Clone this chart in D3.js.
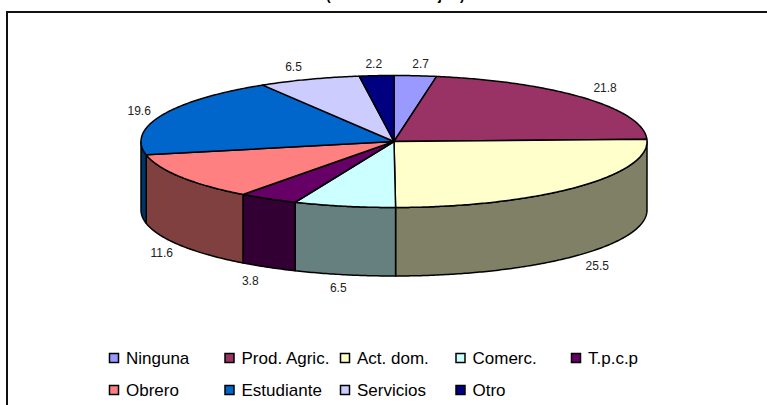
<!DOCTYPE html>
<html>
<head>
<meta charset="utf-8">
<script src="https://cdn.jsdelivr.net/npm/d3@7"></script>
<style>
  html, body { margin: 0; padding: 0; background: #fff; }
  svg { display: block; }
  text { font-family: "Liberation Sans", Arial, sans-serif; }
</style>
</head>
<body>
<div id="chart"></div>
<script>
var categories = ["Ninguna", "Prod. Agric.", "Act. dom.", "Comerc.", "T.p.c.p", "Obrero", "Estudiante", "Servicios", "Otro"];
var values = [2.7, 21.8, 25.5, 6.5, 3.8, 11.6, 19.6, 6.5, 2.2];
var colors = ["#9999ff", "#993366", "#ffffcc", "#ccffff", "#660066", "#ff8080", "#0066cc", "#ccccff", "#000080"];
// only the bottom of the title survives the crop, so only these glyphs are drawn
var titleGlyphs = ["(", "j", ")"];

var w = 767;
var h = 405;
var cx = 394, cy = 141.5, rx = 253, ry = 66, depth = 68.5;

var svg = d3.select("#chart").append("svg")
  .attr("width", w)
  .attr("height", h);

// chart area border, open on the right and bottom where the picture is cut
svg.append("path")
  .attr("d", "M7," + h + "V12H" + w)
  .attr("fill", "none")
  .attr("stroke", "#111")
  .attr("stroke-width", 2);

// title
var titleX = [326, 438, 460];
svg.selectAll(".title")
  .data(titleGlyphs)
  .enter()
  .append("text")
  .attr("class", "title")
  .attr("x", function(d, i) { return titleX[i]; })
  .attr("y", 0)
  .style("font-size", "14px")
  .style("font-weight", "bold")
  .text(function(d) { return d; });

// unit circle to pixels, the squashed ellipse of the pie
var xScale = d3.scaleLinear().domain([-1, 1]).range([cx - rx, cx + rx]);
var yScale = d3.scaleLinear().domain([-1, 1]).range([cy - ry, cy + ry]);

var pie = d3.pie().sort(null).value(function(d) { return d; });
var slices = pie(values);

var line = d3.line()
  .x(function(d) { return xScale(Math.sin(d)); })
  .y(function(d) { return yScale(-Math.cos(d)); });

function rimAngles(a0, a1) {
  var n = Math.max(2, Math.ceil((a1 - a0) / 0.01));
  return d3.range(n + 1).map(function(i) { return a0 + (a1 - a0) * i / n; });
}

// side wall colour is the slice colour at half strength
function sideColor(c) {
  var rgb = d3.rgb(c);
  return d3.rgb(rgb.r / 2, rgb.g / 2, rgb.b / 2);
}

// side wall, only the part of the rim that faces the viewer
var front = slices.filter(function(d) {
  return d.endAngle > Math.PI / 2 && d.startAngle < Math.PI * 1.5;
});

svg.selectAll(".side")
  .data(front)
  .enter()
  .append("path")
  .attr("class", "side")
  .attr("d", function(d) {
    var a0 = Math.max(d.startAngle, Math.PI / 2);
    var a1 = Math.min(d.endAngle, Math.PI * 1.5);
    var top = rimAngles(a0, a1).map(function(t) {
      return [xScale(Math.sin(t)), yScale(-Math.cos(t))];
    });
    var bottom = top.slice().reverse().map(function(p) { return [p[0], p[1] + depth]; });
    return d3.line()(top.concat(bottom)) + "Z";
  })
  .attr("fill", function(d) { return sideColor(colors[d.index]); })
  .attr("stroke", "#000")
  .attr("stroke-width", 1.5)
  .attr("stroke-linejoin", "round");

// top face
svg.selectAll(".slice")
  .data(slices)
  .enter()
  .append("path")
  .attr("class", "slice")
  .attr("d", function(d) {
    return line(rimAngles(d.startAngle, d.endAngle)) + "L" + xScale(0) + "," + yScale(0) + "Z";
  })
  .attr("fill", function(d) { return colors[d.index]; })
  .attr("stroke", "#000")
  .attr("stroke-width", 1.5)
  .attr("stroke-linejoin", "round");

// value labels sit on a wider ellipse round the rim, with a small hand nudge
var labelRx = rx + 26;
var labelRy = ry + 13;
var nudgeX = [3, 1, 2, -1, -5, 3, 1, -7, -1];
var nudgeY = [1, -2, 1, 0, 2, 0, 1, 0, 1];

svg.selectAll(".label")
  .data(slices)
  .enter()
  .append("text")
  .attr("class", "label")
  .attr("x", function(d) {
    return cx + labelRx * Math.sin((d.startAngle + d.endAngle) / 2) + nudgeX[d.index];
  })
  .attr("y", function(d) {
    var mid = (d.startAngle + d.endAngle) / 2;
    var drop = Math.cos(mid) < 0 ? depth : 0;
    return cy - labelRy * Math.cos(mid) + drop + nudgeY[d.index];
  })
  .attr("dy", "0.35em")
  .attr("text-anchor", "middle")
  .style("font-size", "12px")
  .style("fill", "#222")
  .text(function(d) { return d.value; });

// legend, five entries to a row
var legendX = d3.scaleLinear().domain([0, 4]).range([109, 571]);
var legendY = d3.scaleLinear().domain([0, 1]).range([358, 390]);

var legend = svg.selectAll(".legend")
  .data(categories)
  .enter()
  .append("g")
  .attr("class", "legend")
  .attr("transform", function(d, i) {
    return "translate(" + legendX(i % 5) + "," + legendY(Math.floor(i / 5)) + ")";
  });

legend.append("rect")
  .attr("x", 0.5)
  .attr("y", -4.5)
  .attr("width", 9)
  .attr("height", 9)
  .attr("fill", function(d, i) { return colors[i]; })
  .attr("stroke", "#000")
  .attr("stroke-width", 1.5);

legend.append("text")
  .attr("x", 17)
  .attr("dy", "0.35em")
  .style("font-size", "17px")
  .style("fill", "#000")
  .text(function(d) { return d; });
</script>
</body>
</html>
